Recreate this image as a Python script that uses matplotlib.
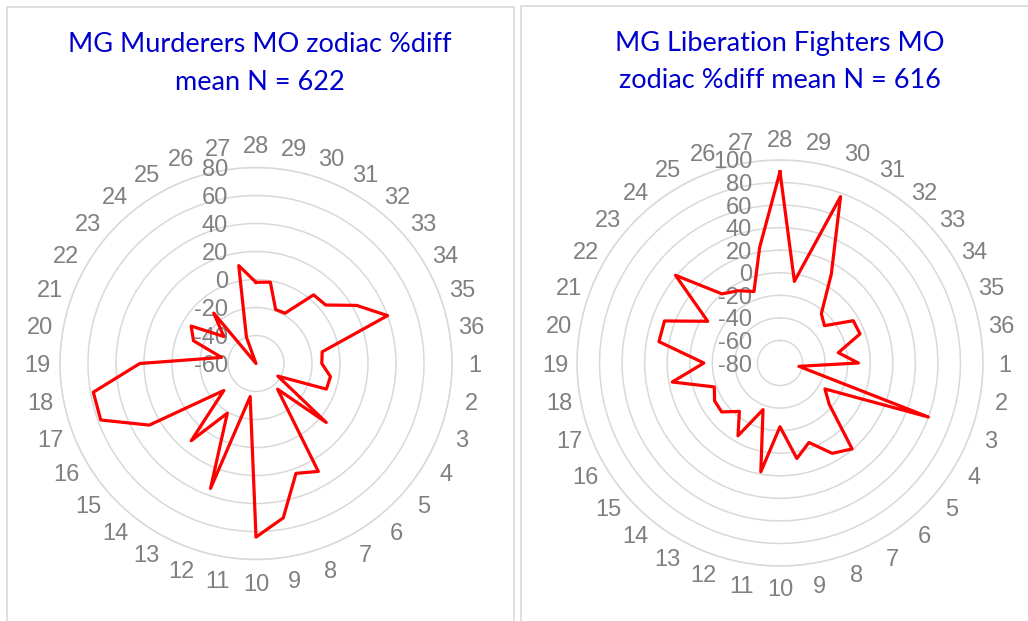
import numpy as np
import matplotlib
matplotlib.use('Agg')
from matplotlib import pyplot as plt
from matplotlib.patches import Rectangle

plt.rcParams['font.family'] = ['Liberation Sans', 'DejaVu Sans']

# categories clockwise from the top
categories = ['28', '29', '30', '31', '32', '33', '34', '35', '36',
              '1', '2', '3', '4', '5', '6', '7', '8', '9', '10',
              '11', '12', '13', '14', '15', '16', '17', '18', '19', '20',
              '21', '22', '23', '24', '25', '26', '27']

murderers = [-2, -1, -19, -18.5, 4, 5, 23, 40, -12,
             -13, -6, -6.5, -42, 5.5, -36, 29, 23.5, 52, 64,
             -36, 35, -19, 12, -30, 28, 58, 58, 23, -35,
             -12.5, -6.5, -30, -13, -60, -40, 11]

fighters = [89.5, -6.5, 77, 11, -23, -28.5, -5, -4.5, -27.5,
            -10.5, -63, 60, -34, -23, 19.5, 12.5, -5, 6, -23.5,
            18, -36, -5.5, -24, -12.5, -13, -18, 17, -12.5, 29,
            29, -6, 41, 0, -6, -12.5, 24]

murderers_ticks = [-60, -40, -20, 0, 20, 40, 60, 80]
fighters_ticks = [-80, -60, -40, -20, 0, 20, 40, 60, 80, 100]

title_left = 'MG Murderers MO zodiac %diff\nmean N = 622'
title_right = 'MG Liberation Fighters MO\nzodiac %diff mean N = 616'

GRAY = '#808080'
GRID = '#d9d9d9'
RED = '#ff0000'
BLUE = '#0000cc'
FS = 17

W, H = 1028, 621
fig = plt.figure(figsize=(W / 100, H / 100), dpi=100)


def radar(rect, values, ticks, gap):
    ax = fig.add_axes(rect, projection='polar')
    ax.set_theta_zero_location('N')
    ax.set_theta_direction(-1)
    theta = np.deg2rad(np.arange(len(values)) * 360.0 / len(values))
    ax.set_ylim(ticks[0], ticks[-1])
    ax.set_yticks(ticks[1:])
    ax.set_yticklabels([])
    ax.yaxis.grid(True, color=GRID, linewidth=1.1)
    ax.xaxis.grid(False)
    ax.set_xticks(theta)
    ax.set_xticklabels([])
    ax.tick_params(axis='both', length=0)
    ax.spines['polar'].set_color(GRID)
    ax.spines['polar'].set_linewidth(1.1)
    ax.set_facecolor('none')
    t = np.append(theta, theta[0])
    v = np.append(values, values[0])
    ax.plot(t, v, color=RED, linewidth=2.3, zorder=5)
    # category labels just outside the outer ring
    for th, cat in zip(theta, categories):
        ax.annotate(cat, xy=(th, ticks[-1]), xytext=(gap * np.sin(th), gap * np.cos(th)),
                    textcoords='offset points', ha='center', va='center_baseline',
                    color=GRAY, fontsize=FS, annotation_clip=False)
    # value labels left of the vertical axis
    for tk in ticks:
        ax.annotate(str(tk), xy=(0, tk), xytext=(-20, 0), textcoords='offset points',
                    ha='right', va='center_baseline', color=GRAY, fontsize=FS, zorder=4)
    return ax


radar([60 / W, 1 - (363.5 + 196) / H, 392 / W, 392 / H], murderers, murderers_ticks, 16.5)
radar([577 / W, 1 - (363 + 203) / H, 406 / W, 406 / H], fighters, fighters_ticks, 15.5)

fig.text(260 / W, 1 - 63.5 / H, title_left, ha='center', va='center', color=BLUE,
         fontsize=19.5, family=['Lato', 'DejaVu Sans'], linespacing=1.6)
fig.text(780 / W, 1 - 62.5 / H, title_right, ha='center', va='center', color=BLUE,
         fontsize=19.5, family=['Lato', 'DejaVu Sans'], linespacing=1.6)

# chart area borders
fig.patches.append(Rectangle((6.5 / W, -0.05), 507 / W, 1.05 - 7 / H, transform=fig.transFigure,
                             fill=False, edgecolor=GRID, linewidth=1.2))
fig.patches.append(Rectangle((521 / W, -0.05), 520 / W, 1.05 - 5.5 / H, transform=fig.transFigure,
                             fill=False, edgecolor=GRID, linewidth=1.2))

fig.savefig('out.png', dpi=100)
